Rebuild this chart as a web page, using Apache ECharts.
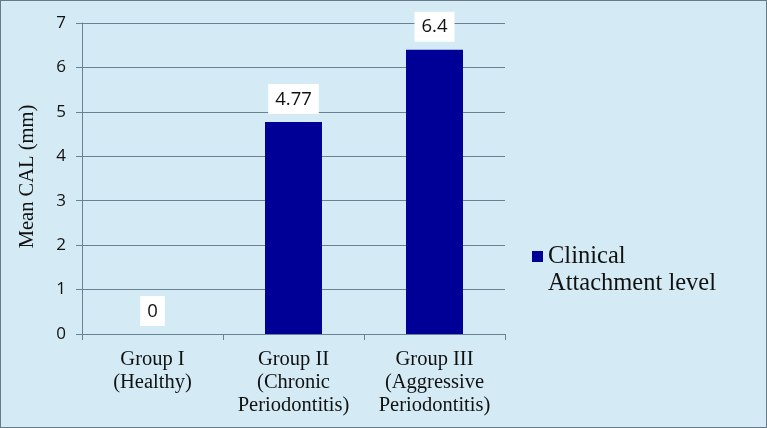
<!DOCTYPE html>
<html>
<head>
<meta charset="utf-8">
<script src="https://cdn.jsdelivr.net/npm/echarts@6/dist/echarts.min.js"></script>
<style>
html,body{margin:0;padding:0;}
#c{width:767px;height:428px;box-sizing:border-box;border:1px solid #667a88;background:#d4eaf4;}
</style>
</head>
<body>
<div id="c"></div>
<script>
var categories = ['Group I\n(Healthy)', 'Group II\n(Chronic\nPeriodontitis)', 'Group III\n(Aggressive\nPeriodontitis)'];
var values = [0, 4.77, 6.4];
var seriesName = 'Clinical Attachment level';
var legendLines = ['Clinical', 'Attachment level'];
var yAxisName = 'Mean CAL (mm)';

var chart = echarts.init(document.getElementById('c'), null, {renderer: 'canvas'});
var gridColor = '#6a8394';
var serif = 'Liberation Serif';
var legendText = {fontFamily: serif, fontSize: 24.5, lineHeight: 27, color: '#111'};
chart.setOption({
  backgroundColor: 'transparent',
  animation: false,
  grid: {left: 81, top: 22, right: 261, bottom: 93, containLabel: false},
  legend: {
    data: [seriesName],
    left: 526, top: 210,
    orient: 'vertical',
    itemWidth: 11, itemHeight: 11, itemGap: 3,
    icon: 'rect',
    formatter: function(){ return ' \n' + legendLines[0] + '\n' + legendLines[1]; },
    textStyle: legendText
  },
  xAxis: {
    type: 'category',
    data: categories,
    axisLine: {show: true, lineStyle: {color: gridColor, width: 1}},
    axisTick: {show: true, length: 6, lineStyle: {color: gridColor}},
    axisLabel: {fontFamily: serif, fontSize: 20.5, lineHeight: 23, color: '#111', margin: 14, interval: 0}
  },
  yAxis: {
    type: 'value',
    min: 0, max: 7, interval: 1,
    name: yAxisName,
    nameLocation: 'middle',
    nameGap: 44,
    nameTextStyle: {fontFamily: serif, fontSize: 20.5, color: '#111', padding: [0, 0, 0, 4]},
    axisLine: {show: true, lineStyle: {color: gridColor, width: 1}},
    axisTick: {show: true, length: 6, lineStyle: {color: gridColor}},
    axisLabel: {fontFamily: 'Open Sans', fontSize: 17, color: '#111', margin: 16},
    splitLine: {show: true, lineStyle: {color: gridColor, width: 1}}
  },
  series: [{
    name: seriesName,
    type: 'bar',
    data: values,
    barWidth: 57,
    itemStyle: {color: '#000096'},
    label: {
      show: true,
      position: 'top',
      distance: 8,
      fontFamily: 'Open Sans',
      fontSize: 18.5,
      color: '#111',
      backgroundColor: '#ffffff',
      padding: [6, 7, 5, 7]
    }
  }]
});
</script>
</body>
</html>
